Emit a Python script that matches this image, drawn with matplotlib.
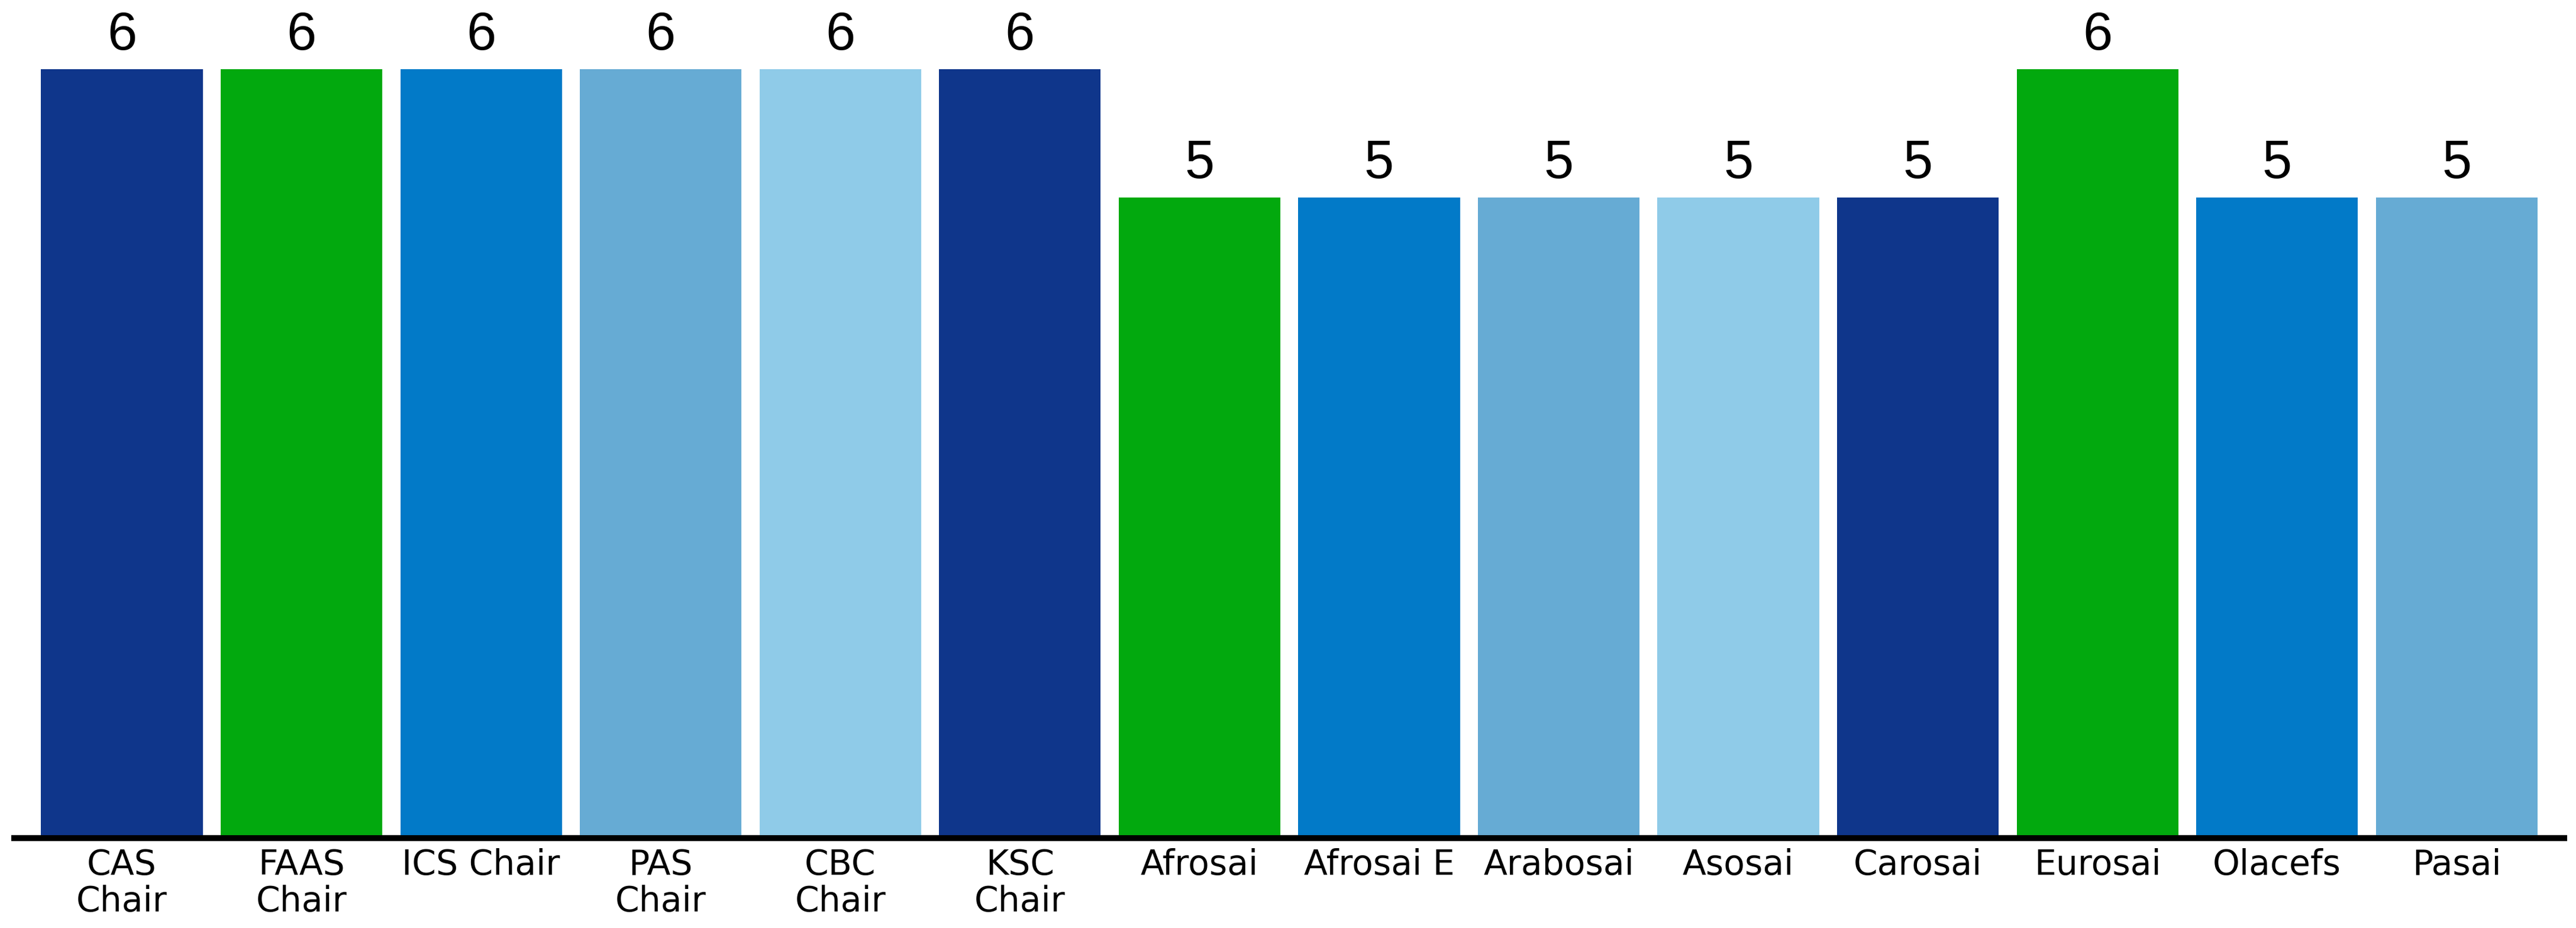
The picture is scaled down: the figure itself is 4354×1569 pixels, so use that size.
import matplotlib.pyplot as plt

categorias = ["CAS\nChair", "FAAS\nChair", "ICS Chair", "PAS\nChair", "CBC\nChair", "KSC\nChair",
              "Afrosai", "Afrosai E", "Arabosai", "Asosai", "Carosai", "Eurosai", "Olacefs", "Pasai"]
valores = [6, 6, 6, 6, 6, 6, 5, 5, 5, 5, 5, 6, 5, 5]
paleta = ["#0F368B", "#02A90E", "#027AC8", "#66ABD4", "#8FCBE8"]

cores = [paleta[i % len(paleta)] for i in range(len(valores))]

fig = plt.figure(figsize=(43.54, 15.69), dpi=100)
ax = fig.add_axes([0.0055, 0.0969, 0.990, 0.8285])

x = range(len(valores))
barras = ax.bar(x, valores, width=0.9, color=cores)
ax.bar_label(barras, padding=10, fontsize=65, family="Liberation Sans")

ax.set_xlim(-0.6, 13.6)
ax.set_ylim(0, 6)
ax.set_xticks(list(x))
ax.set_xticklabels(categorias, fontsize=42, family="DejaVu Sans", linespacing=1.12)
ax.tick_params(axis="x", length=0, pad=12)
ax.set_yticks([])

for lado in ["top", "left", "right"]:
    ax.spines[lado].set_visible(False)
ax.spines["bottom"].set_linewidth(7.2)
ax.spines["bottom"].set_color("black")

fig.savefig("out.png", dpi=100)
